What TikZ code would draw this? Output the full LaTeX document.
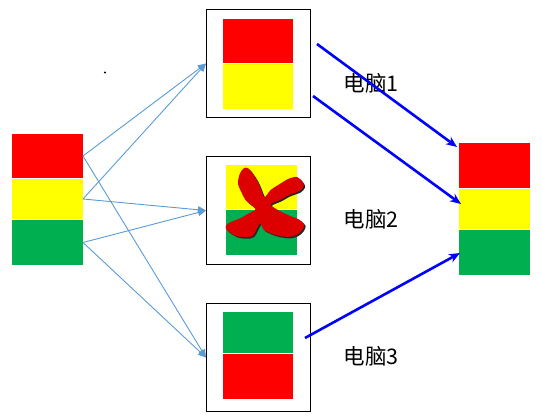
\documentclass[tikz,border=0pt]{standalone}
\usepackage{fontspec}
\newfontfamily\cjk{Noto Sans CJK SC}
\usetikzlibrary{arrows.meta}
\definecolor{rot}{HTML}{FF0000}
\definecolor{gelb}{HTML}{FFFF00}
\definecolor{gruen}{HTML}{00B050}
\definecolor{hellblau}{HTML}{5B9BD5}
\definecolor{kreuzrot}{HTML}{DD0000}
\begin{document}
\begin{tikzpicture}[
    x=1pt, y=-1pt,
    font=\cjk\fontsize{21.5}{24}\selectfont,
    seg/.style={anchor=north west, inner sep=0pt, outer sep=0pt, minimum width=71pt},
    rahmen/.style={draw=black, line width=1pt, anchor=north west, inner sep=0pt,
      minimum width=104pt, minimum height=108pt},
    duenn/.style={-{Triangle[length=8pt,width=7pt]}, draw=hellblau, line width=0.9pt},
    dick/.style={-{Stealth[length=11pt,width=9pt]}, draw=blue, line width=2.6pt}
  ]
  \useasboundingbox (0,0) rectangle (542,417);
  % linker Stapel
  \node[seg, fill=rot, minimum height=44pt] (lrot) at (12,134) {};
  \node[seg, fill=gelb, minimum height=40pt] (lgelb) at (12,179) {};
  \node[seg, fill=gruen, minimum height=45pt] (lgruen) at (12,220) {};
  % rechter Stapel
  \node[seg, fill=rot, minimum height=45pt] (rrot) at (459,143) {};
  \node[seg, fill=gelb, minimum height=40pt] (rgelb) at (459,189) {};
  \node[seg, fill=gruen, minimum height=45pt] (rgruen) at (459,230) {};
  % drei Rechner
  \node[rahmen] (pc1) at (206,9) {};
  \node[seg, fill=rot, minimum width=70pt, minimum height=44pt] (pc1a) at (223,19) {};
  \node[seg, fill=gelb, minimum width=70pt, minimum height=45pt] (pc1b) at (223,64) {};
  \node[rahmen] (pc2) at (206,156) {};
  \node[seg, fill=gelb, minimum height=44pt] (pc2a) at (226,165) {};
  \node[seg, fill=gruen, minimum height=45pt] (pc2b) at (226,210) {};
  \node[rahmen] (pc3) at (206,303) {};
  \node[seg, fill=gruen, minimum width=70pt, minimum height=41pt] (pc3a) at (223,312) {};
  \node[seg, fill=rot, minimum width=70pt, minimum height=45pt] (pc3b) at (223,354) {};
  % Kreuz
  \def\kreuzumriss{(245.3,167.7) (248.7,168.7) (252,172.7) (256.5,179.5) (260,187)
    (264.5,197) (270.3,190.3) (278.7,184.7) (288.7,178.7) (297,177) (302,181.3)
    (303.7,186) (299.5,191) (289,195) (280,200) (270.5,204.5) (278,210)
    (289,215.5) (299,219.5) (304.3,224.7) (302,230.3) (297,234.7) (288.7,237)
    (275.5,235) (264,230) (260,223.5) (253,235.5) (245.3,237.3) (236,236)
    (227,230.3) (226,225.3) (232,221.5) (240,218.5) (248.5,213.5) (255.5,209)
    (246,200.5) (241.3,192) (238,183.7) (239.3,175.3) (242,170)}
  \fill[black!85, shift={(1.4,1.4)}] plot[smooth cycle, tension=0.5] coordinates {\kreuzumriss};
  \fill[kreuzrot] plot[smooth cycle, tension=0.5] coordinates {\kreuzumriss};
  \fill (105,72.5) circle (1.1);
  % Beschriftung
  \node (t1) at (371,83) {电脑1};
  \node (t2) at (371,219) {电脑2};
  \node (t3) at (371,356) {电脑3};
  % Verteilung
  \draw[duenn] (lrot.east) -- (pc1.west);
  \draw[duenn] (lrot.east) -- (pc3.west);
  \draw[duenn] (lgelb.east) -- (pc1.west);
  \draw[duenn] (lgelb.east) -- (pc2.west);
  \draw[duenn] (lgruen.east) -- (pc2.west);
  \draw[duenn] (lgruen.east) -- (pc3.west);
  % Ruecklauf
  \coordinate (s1) at (317,44);
  \coordinate (s2) at (313,96);
  \coordinate (s3) at (305,338);
  \coordinate (e1) at (457,147);
  \coordinate (e2) at (461,204);
  \coordinate (e3) at (460,253);
  \draw[dick] (s1) -- (e1);
  \draw[dick] (s2) -- (e2);
  \draw[dick] (s3) -- (e3);
\end{tikzpicture}
\end{document}
